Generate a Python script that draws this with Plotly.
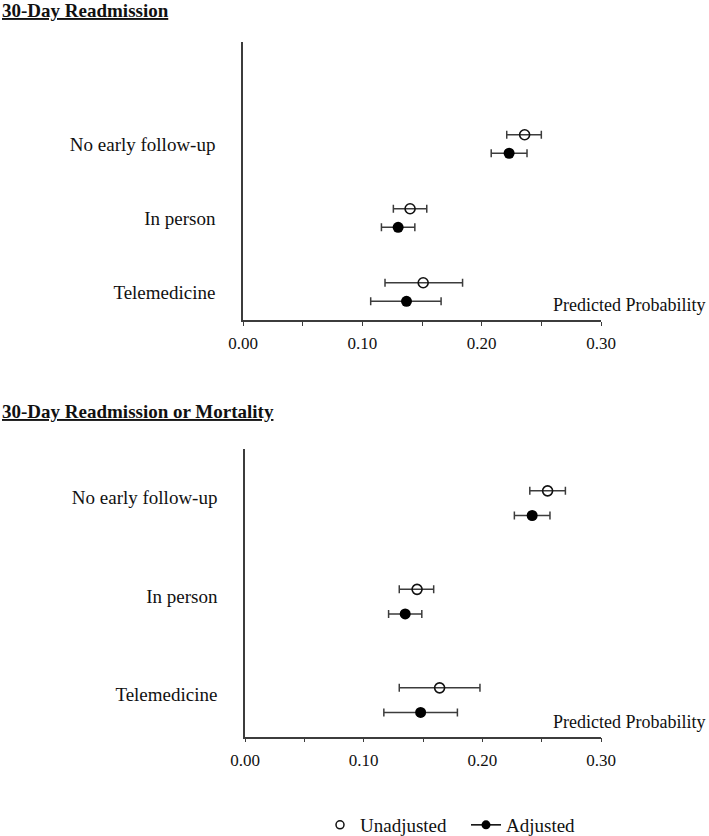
import plotly.graph_objects as go

# ---------------- data ----------------
categories = ["Telemedicine", "In person", "No early follow-up"]
x_tick_vals = [0.00, 0.05, 0.10, 0.15, 0.20, 0.25, 0.30]
x_tick_text = ["0.00", "", "0.10", "", "0.20", "", "0.30"]

# Panel 1: 30-Day Readmission
readm_unadj = [0.151, 0.140, 0.236]
readm_unadj_lo = [0.119, 0.126, 0.221]
readm_unadj_hi = [0.184, 0.154, 0.250]
readm_adj = [0.137, 0.130, 0.223]
readm_adj_lo = [0.107, 0.116, 0.208]
readm_adj_hi = [0.166, 0.144, 0.238]

# Panel 2: 30-Day Readmission or Mortality
mort_unadj = [0.164, 0.145, 0.255]
mort_unadj_lo = [0.130, 0.130, 0.240]
mort_unadj_hi = [0.198, 0.159, 0.270]
mort_adj = [0.148, 0.135, 0.242]
mort_adj_lo = [0.117, 0.121, 0.227]
mort_adj_hi = [0.179, 0.149, 0.257]

panel_titles = ["30-Day Readmission", "30-Day Readmission or Mortality"]
series_names = ["Unadjusted", "Adjusted"]
x_title = "Predicted Probability"

# ---------------- style ----------------
FONT = "Liberation Serif"
INK = "#111111"
AXC = "#3c3c3c"
OFF = 0.125
W, H = 709, 836

fig = go.Figure()


def add_panel(xa, ya, unadj, ulo, uhi, adj, alo, ahi):
    pos = list(range(len(categories)))
    fig.add_trace(go.Scatter(
        x=unadj, y=[p + OFF for p in pos], mode="markers",
        marker=dict(symbol="circle-open", size=10, color=INK, line=dict(width=1.6, color=INK)),
        error_x=dict(type="data", symmetric=False,
                     array=[h - v for h, v in zip(uhi, unadj)],
                     arrayminus=[v - l for v, l in zip(unadj, ulo)],
                     color=AXC, thickness=1.5, width=4),
        xaxis=xa, yaxis=ya, showlegend=False, name=series_names[0]))
    fig.add_trace(go.Scatter(
        x=adj, y=[p - OFF for p in pos], mode="markers",
        marker=dict(symbol="circle", size=11, color="#000000"),
        error_x=dict(type="data", symmetric=False,
                     array=[h - v for h, v in zip(ahi, adj)],
                     arrayminus=[v - l for v, l in zip(adj, alo)],
                     color=AXC, thickness=1.5, width=4),
        xaxis=xa, yaxis=ya, showlegend=False, name=series_names[1]))


add_panel("x", "y", readm_unadj, readm_unadj_lo, readm_unadj_hi,
          readm_adj, readm_adj_lo, readm_adj_hi)
add_panel("x2", "y2", mort_unadj, mort_unadj_lo, mort_unadj_hi,
          mort_adj, mort_adj_lo, mort_adj_hi)

# legend-only traces
fig.add_trace(go.Scatter(x=[None], y=[None], mode="markers", name=series_names[0],
                         marker=dict(symbol="circle-open", size=8, color=INK, line=dict(width=1.5, color=INK)),
                         legend="legend"))
fig.add_trace(go.Scatter(x=[None], y=[None], mode="lines+markers", name=series_names[1],
                         marker=dict(symbol="circle", size=9, color="#000000"),
                         line=dict(color="#000000", width=1.5),
                         legend="legend2"))

xcommon = dict(range=[0, 0.30], showline=True, linecolor=AXC, linewidth=1.5,
               ticks="outside", ticklen=4, tickwidth=1.2, tickcolor=AXC,
               tickvals=x_tick_vals, ticktext=x_tick_text, showgrid=False,
               zeroline=False, tickfont=dict(family=FONT, size=17, color=INK),
               ticklabelstandoff=3, fixedrange=True, automargin=False)
ycommon = dict(showline=True, linecolor=AXC, linewidth=1.5, ticks="",
               ticktext=categories, showgrid=False, zeroline=False,
               tickfont=dict(family=FONT, size=19, color=INK),
               ticklabelstandoff=22, fixedrange=True, automargin=False)

pos = list(range(len(categories)))
fig.update_layout(
    width=W, height=H, autosize=False,
    margin=dict(l=0, r=0, t=0, b=0, pad=0, autoexpand=False),
    paper_bgcolor="white", plot_bgcolor="white",
    font=dict(family=FONT, color=INK),
    xaxis=dict(domain=[243 / W, 601 / W], anchor="y", **xcommon),
    yaxis=dict(domain=[1 - 320 / H, 1 - 41.5 / H], anchor="x", range=[-0.378, 3.385],
               tickvals=pos, **ycommon),
    xaxis2=dict(domain=[245 / W, 601 / W], anchor="y2", **xcommon),
    yaxis2=dict(domain=[1 - 736.7 / H, 1 - 449.3 / H], anchor="x2", range=[-0.371, 2.547],
                tickvals=[p + 0.055 for p in pos], **ycommon),
    legend=dict(x=320 / W, y=1 - 825 / H, xanchor="left", yanchor="middle",
                font=dict(family=FONT, size=19, color=INK), bgcolor="rgba(0,0,0,0)"),
    legend2=dict(x=466 / W, y=1 - 825 / H, xanchor="left", yanchor="middle",
                 font=dict(family=FONT, size=19, color=INK), bgcolor="rgba(0,0,0,0)"),
    annotations=[
        dict(text="<b><u>" + panel_titles[0] + "</u></b>", xref="paper", yref="paper",
             x=0, y=1 - 10.5 / H, xanchor="left", yanchor="middle", showarrow=False,
             font=dict(family=FONT, size=19, color=INK)),
        dict(text="<b><u>" + panel_titles[1] + "</u></b>", xref="paper", yref="paper",
             x=0, y=1 - 411 / H, xanchor="left", yanchor="middle", showarrow=False,
             font=dict(family=FONT, size=19, color=INK)),
        dict(text=x_title, xref="paper", yref="paper",
             x=707 / W, y=1 - 305 / H, xanchor="right", yanchor="middle", showarrow=False,
             font=dict(family=FONT, size=18, color=INK)),
        dict(text=x_title, xref="paper", yref="paper",
             x=707 / W, y=1 - 722 / H, xanchor="right", yanchor="middle", showarrow=False,
             font=dict(family=FONT, size=18, color=INK)),
    ],
)

# remove the default 8px page margin so the figure fills the window from (0, 0)
fig.write_html("out.html", config={"displayModeBar": False},
               post_script="document.body.style.margin='0';")
